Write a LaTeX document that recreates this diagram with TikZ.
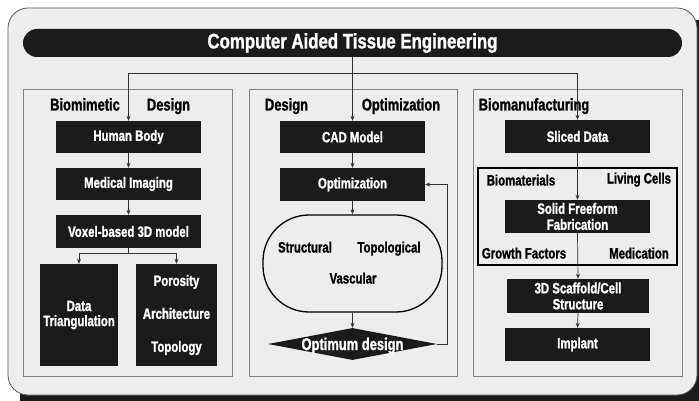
\documentclass[tikz,border=0pt]{standalone}
\usepackage{fontspec}
\setmainfont[FakeStretch=0.76, BoldFeatures={FakeBold=1.2}]{Liberation Sans}
\newfontfamily\titlefont[FakeStretch=0.8, BoldFeatures={FakeBold=1.2}]{Liberation Sans}
\usetikzlibrary{shapes.geometric,arrows.meta}
\definecolor{boxk}{HTML}{1B1B1B}
\definecolor{panel}{HTML}{EDEDED}
\definecolor{pborder}{HTML}{5A5A5A}
\definecolor{sborder}{HTML}{808080}
\definecolor{lineg}{HTML}{333333}
\begin{document}
\begin{tikzpicture}[x=1pt,y=-1pt,
  blk/.style={fill=boxk, text=white, font=\fontsize{15}{16}\selectfont\bfseries, align=center, inner sep=0pt, minimum width=145pt, minimum height=32pt},
  ttl/.style={font=\fontsize{17}{18}\selectfont\bfseries, inner sep=0pt, anchor=base},
  lbl/.style={font=\fontsize{15}{16}\selectfont\bfseries, inner sep=0pt, anchor=base},
  sect/.style={draw=sborder, line width=0.8pt, inner sep=0pt},
  arr/.style={draw=lineg, line width=0.7pt, -{Stealth[length=5pt,width=4pt]}}]
\useasboundingbox (0,0) rectangle (699,401);
\clip (0,0) rectangle (699,401);
\fill[white] (0,0) rectangle (699,401);
\fill[boxk, rounded corners=20pt] (20,20) rectangle (720,420);
\filldraw[fill=panel, draw=pborder, line width=0.8pt, rounded corners=20pt] (8,8) rectangle (697,395);

% title bar
\node[fill=boxk, rounded corners=14pt, minimum width=659pt, minimum height=28pt, inner sep=0pt, text=white, font=\titlefont\fontsize{21}{24}\selectfont\bfseries] (title) at (352.5,43) {Computer Aided Tissue Engineering};

% sections
\node[sect, minimum width=209pt, minimum height=287pt] (s1) at (127.5,232.5) {};
\node[sect, minimum width=208pt, minimum height=287pt] (s2) at (353,232.5) {};
\node[sect, minimum width=209pt, minimum height=287pt] (s3) at (577.5,232.5) {};
\node[ttl] (t1a) at (85,110.5) {Biomimetic};
\node[ttl] (t1b) at (168.5,110.5) {Design};
\node[ttl] (t2a) at (286.5,110.5) {Design};
\node[ttl] (t2b) at (401,110.5) {Optimization};
\node[ttl] (t3) at (534,110.5) {Biomanufacturing};

% left column
\node[blk] (hb) at (128.5,137) {Human Body};
\node[blk] (mi) at (128.5,184) {Medical Imaging};
\node[blk, minimum height=33pt] (vx) at (128.5,231.5) {Voxel-based 3D model};
\node[blk, minimum width=78pt, minimum height=102pt, font=\fontsize{15}{15}\selectfont\bfseries] (dt) at (79,315) {Data\\Triangulation};
\node[blk, minimum width=81pt, minimum height=102pt, font=\fontsize{15}{33}\selectfont\bfseries] (pa) at (176.5,315) {Porosity\\Architecture\\Topology};

% middle column
\node[blk] (cad) at (352.5,137) {CAD Model};
\node[blk, minimum height=33pt] (opt) at (352.5,184.5) {Optimization};
\node[draw=black, line width=1.3pt, rounded corners=46pt, minimum width=179pt, minimum height=97pt, inner sep=0pt] (st) at (352.5,263.5) {};
\node[lbl] (stA) at (305,252.5) {Structural};
\node[lbl] (stB) at (389,252.5) {Topological};
\node[lbl] (stC) at (353,283.5) {Vascular};
\node[diamond, aspect=5.28, fill=boxk, minimum width=169pt, minimum height=32pt, inner sep=0pt] (od) at (352.5,344) {};
\node[text=white, font=\fontsize{17}{18}\selectfont\bfseries, inner sep=0pt, anchor=base] (odt) at (352.5,350) {Optimum design};

% right column
\node[blk, minimum height=33pt] (sd) at (577.5,136.5) {Sliced Data};
\node[draw=black, line width=2pt, minimum width=199pt, minimum height=97pt, inner sep=0pt] (ib) at (577.5,216.5) {};
\node[blk, minimum height=33pt] (sff) at (577.5,216.5) {Solid Freeform\\Fabrication};
\node[lbl] (bm) at (521,185.5) {Biomaterials};
\node[lbl] (lc) at (639,183.5) {Living Cells};
\node[lbl] (gf) at (524,258.5) {Growth Factors};
\node[lbl] (md) at (639,258.5) {Medication};
\node[blk, minimum width=142pt, minimum height=34pt] (sc) at (578,296) {3D Scaffold/Cell\\Structure};
\node[blk, minimum height=33pt] (im) at (577.5,344.5) {Implant};

% connectors
\draw[arr] (title.south) -- ++(0,16) -| (hb.north);
\draw[arr] (title.south) -- (cad.north);
\draw[arr] (title.south) -- ++(0,16) -| (sd.north);
\draw[arr] (hb.south) -- (mi.north);
\draw[arr] (mi.south) -- (vx.north);
\draw[arr] (vx.south) -- ++(0,5) -| (dt.north);
\draw[arr] (vx.south) -- ++(0,5) -| (pa.north);
\draw[arr] (cad.south) -- (opt.north);
\draw[arr] (opt.south) -- (st.north);
\draw[arr] (st.south) -- (od.north);
\draw[arr] (od.east) -- ++(10,0) |- (opt.east);
\draw[arr] (sd.south) -- (sff.north);
\draw[arr] (sff.south) -- (sc.north);
\draw[arr] (sc.south) -- (im.north);
\end{tikzpicture}
\end{document}
